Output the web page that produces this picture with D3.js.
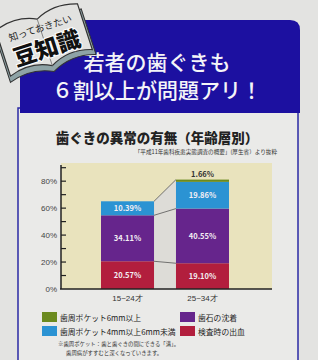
<!DOCTYPE html>
<html>
<head>
<meta charset="utf-8">
<script src="https://cdn.jsdelivr.net/npm/d3@7"></script>
<style>
  html, body { margin: 0; padding: 0; background: #e3e3e1; }
  svg { display: block; font-family: "Noto Sans CJK JP", "Noto Sans", sans-serif; }
</style>
</head>
<body>
<svg width="318" height="360"></svg>
<script>
'use strict';

var categories = ['15~24才', '25~34才'];
var seriesNames = ['検査時の出血', '歯石の沈着', '歯周ポケット4mm以上6mm未満', '歯周ポケット6mm以上'];
var bleeding = [20.57, 19.10];
var tartar = [34.11, 40.55];
var pocket4 = [10.39, 19.86];
var pocket6 = [0, 1.66];
var yTicks = [0, 20, 40, 60, 80];
var colors = ['#b21e3d', '#66258c', '#2b93d3', '#6b8a1f'];

var svg = d3.select('svg');

// page background + panel
svg.append('rect').attr('width', 318).attr('height', 360).attr('fill', '#e3e3e1');
svg.append('rect')
  .attr('x', 18).attr('y', 108).attr('width', 280).attr('height', 260)
  .attr('fill', '#eaeae8').attr('stroke', '#2b2aa4').attr('stroke-width', 1.5);

// blue headline box
svg.append('path')
  .attr('d', 'M20,30 Q20,20 30,20 L290,20 Q300,20 300,30 L300,113 L20,113 Z')
  .attr('fill', '#1c10a0');

svg.append('g')
  .attr('fill', '#f4f4f8')
  .attr('font-size', 21)
  .attr('font-weight', 500)
  .attr('text-anchor', 'middle')
  .selectAll('text')
  .data(['若者の歯ぐきも', '６割以上が問題アリ！'])
  .enter().append('text')
  .attr('x', 157)
  .attr('y', function (d, i) { return 70 + i * 28; })
  .text(function (d) { return d; });

// book icon
var book = svg.append('g').attr('transform', 'translate(44,40) rotate(-18)');
book.append('path')
  .attr('d', 'M-45,-18 L-45,30 Q-22,22 0,33 Q22,22 45,30 L45,-18 Z')
  .attr('fill', '#8ea3a6').attr('stroke', '#333').attr('stroke-width', 1);
book.append('path')
  .attr('d', 'M-43,-24 Q-20,-32 0,-22 Q20,-32 43,-24 L43,24 Q20,16 0,27 Q-20,16 -43,24 Z')
  .attr('fill', '#e2e2e0').attr('stroke', '#333').attr('stroke-width', 1.2);
book.append('path').attr('d', 'M0,-22 L0,27').attr('stroke', '#777').attr('stroke-width', 0.8);
book.append('text')
  .attr('x', 0).attr('y', -9).attr('text-anchor', 'middle')
  .attr('font-size', 9.5).attr('fill', '#222')
  .text('知っておきたい');
book.append('text')
  .attr('x', 0).attr('y', 17).attr('text-anchor', 'middle')
  .attr('font-size', 23).attr('font-weight', 900).attr('fill', '#111')
  .attr('stroke', '#fff').attr('stroke-width', 2).attr('paint-order', 'stroke')
  .text('豆知識');

// chart title
svg.append('text')
  .attr('x', 157).attr('y', 143).attr('text-anchor', 'middle')
  .attr('font-size', 13.5).attr('font-weight', 900).attr('fill', '#222')
  .text('歯ぐきの異常の有無（年齢層別）');
svg.append('text')
  .attr('x', 277).attr('y', 154).attr('text-anchor', 'end')
  .attr('font-size', 5.6).attr('fill', '#333')
  .text('「平成11年歯科疾患実態調査の概要」(厚生省）より抜粋');

// scales
var x = d3.scaleBand().domain(categories).range([101, 229]).paddingInner(0.293).paddingOuter(0);
var y = d3.scaleLinear().domain([0, 92]).range([289, 165]);

var rows = categories.map(function (c, i) {
  return { cat: c, s0: bleeding[i], s1: tartar[i], s2: pocket4[i], s3: pocket6[i] };
});
var stack = d3.stack().keys(['s0', 's1', 's2', 's3']);
var layers = stack(rows);

// plot background
svg.append('rect')
  .attr('x', 61).attr('y', 163).attr('width', 211).attr('height', 126)
  .attr('fill', '#e9e3bd');

// gap between bars with connecting lines
var b0 = x(categories[0]) + x.bandwidth();
var b1 = x(categories[1]);
var tops = rows.map(function (r) { return r.s0 + r.s1 + r.s2 + r.s3; });
svg.append('path')
  .attr('d', 'M' + b0 + ',' + y(tops[0]) + 'L' + b1 + ',' + y(tops[1]) +
    'L' + b1 + ',' + y(0) + 'L' + b0 + ',' + y(0) + 'Z')
  .attr('fill', '#dddcd7');

// bars
var groups = svg.append('g').selectAll('g')
  .data(layers).enter().append('g')
  .attr('fill', function (d, i) { return colors[i]; });
groups.selectAll('rect')
  .data(function (d) { return d; })
  .enter().append('rect')
  .attr('x', function (d) { return x(d.data.cat); })
  .attr('width', x.bandwidth())
  .attr('y', function (d) { return y(d[1]); })
  .attr('height', function (d) { return y(d[0]) - y(d[1]); });

// connecting lines
[0, 1, 3].forEach(function (k) {
  var l = layers[k];
  svg.append('line')
    .attr('x1', b0).attr('y1', y(l[0][1]))
    .attr('x2', b1).attr('y2', y(l[1][1]))
    .attr('stroke', '#555').attr('stroke-width', 0.8);
});

// value labels
var labels = svg.append('g').attr('font-size', 7.5).attr('font-weight', 700).attr('text-anchor', 'middle');
layers.forEach(function (l, k) {
  l.forEach(function (d) {
    var v = d[1] - d[0];
    if (v <= 0) return;
    var small = v < 5;
    labels.append('text')
      .attr('x', x(d.data.cat) + x.bandwidth() / 2)
      .attr('y', small ? y(d[1]) - 3 : y((d[0] + d[1]) / 2) + 3)
      .attr('fill', small ? '#333' : '#f3eef3')
      .text(v.toFixed(2) + '%');
  });
});

// y axis
var yAxis = d3.axisLeft(y).tickValues(yTicks).tickSize(0).tickPadding(4)
  .tickFormat(function (d) { return d + '%'; });
var ya = svg.append('g').attr('transform', 'translate(61,0)').call(yAxis);
ya.select('.domain').remove();
ya.selectAll('text').attr('font-size', 8).attr('fill', '#444')
  .attr('font-family', '"Liberation Sans", sans-serif');
svg.append('line').attr('x1', 61).attr('x2', 61).attr('y1', 165).attr('y2', 289)
  .attr('stroke', '#222').attr('stroke-width', 1.5);
svg.append('g').selectAll('line')
  .data(d3.range(10, 91, 10)).enter().append('line')
  .attr('x1', 61).attr('x2', 66)
  .attr('y1', function (d) { return y(d); }).attr('y2', function (d) { return y(d); })
  .attr('stroke', '#222').attr('stroke-width', 1.2);

// x axis
var xAxis = d3.axisBottom(x).tickSize(0).tickPadding(6);
var xa = svg.append('g').attr('transform', 'translate(0,289)').call(xAxis);
xa.select('.domain').remove();
xa.selectAll('text').attr('font-size', 8).attr('fill', '#333');
svg.append('line').attr('x1', 60).attr('x2', 272).attr('y1', 289).attr('y2', 289)
  .attr('stroke', '#222').attr('stroke-width', 1.5);

// legend
var legendOrder = [3, 1, 2, 0];
var legend = svg.append('g').selectAll('g')
  .data(legendOrder).enter().append('g')
  .attr('transform', function (d, i) {
    return 'translate(' + (i % 2 === 0 ? 42 : 180) + ',' + (312 + Math.floor(i / 2) * 14) + ')';
  });
legend.append('rect').attr('width', 15).attr('height', 10)
  .attr('fill', function (d) { return colors[d]; });
legend.append('text').attr('x', 18).attr('y', 8.5)
  .attr('font-size', 7.8).attr('fill', '#222')
  .text(function (d) { return seriesNames[d]; });

svg.append('g').attr('font-size', 5.4).attr('fill', '#333')
  .selectAll('text')
  .data(['※歯周ポケット：歯と歯ぐきの間にできる「溝」。', '歯周病がすすむと深くなっていきます。'])
  .enter().append('text')
  .attr('x', function (d, i) { return i ? 66 : 58; })
  .attr('y', function (d, i) { return 346 + i * 9; })
  .text(function (d) { return d; });
</script>
</body>
</html>
